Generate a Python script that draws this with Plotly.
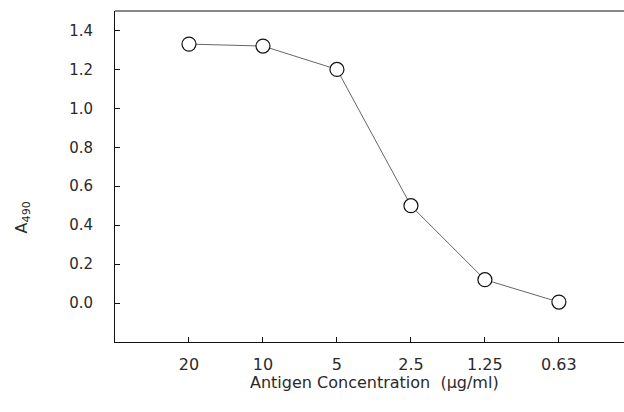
import plotly.graph_objects as go

concentrations = ["20", "10", "5", "2.5", "1.25", "0.63"]
absorbance = [1.33, 1.32, 1.20, 0.50, 0.12, 0.005]
y_ticks = [0.0, 0.2, 0.4, 0.6, 0.8, 1.0, 1.2, 1.4]

xpos = list(range(len(concentrations)))

fig = go.Figure()
fig.add_trace(go.Scatter(
    x=xpos, y=absorbance, mode="lines+markers",
    line=dict(color="#666666", width=1),
    marker=dict(symbol="circle", size=14, color="white",
                line=dict(width=1.2, color="#111111")),
    showlegend=False,
    cliponaxis=False,
))

FAM = "DejaVu Sans"
TXT = "#2a2a2a"

fig.update_layout(
    width=624, height=412,
    margin=dict(l=115, r=0, t=11, b=70, autoexpand=False),
    paper_bgcolor="white", plot_bgcolor="white",
    font=dict(family=FAM, size=15, color=TXT),
    xaxis=dict(
        range=[-1, 5.88], tickvals=xpos, ticktext=concentrations,
        showgrid=False, zeroline=False,
        showline=True, linecolor="#111111", linewidth=1,
        ticks="inside", ticklen=5, tickcolor="#111111",
        tickfont=dict(family=FAM, size=16, color=TXT),
        ticklabelstandoff=8,
    ),
    yaxis=dict(
        range=[-0.2, 1.5], tickvals=y_ticks, ticktext=[f"{v:.1f}" for v in y_ticks],
        showgrid=False, zeroline=False,
        showline=True, linecolor="#111111", linewidth=1,
        ticks="inside", ticklen=5, tickcolor="#111111",
        tickfont=dict(family=FAM, size=15, color=TXT),
        ticklabelstandoff=18,
    ),
    shapes=[dict(type="line", xref="paper", yref="paper", x0=0, x1=1, y0=1, y1=1,
                 line=dict(color="#111111", width=1))],
    annotations=[
        dict(text="Antigen Concentration  (μg/ml)", xref="paper", yref="paper",
             x=0.509, y=0, yshift=-40, xanchor="center", yanchor="middle",
             showarrow=False, font=dict(family=FAM, size=16, color=TXT)),
        dict(text="A<sub>490</sub>", xref="paper", yref="y",
             x=0, y=0.44, xshift=-93, xanchor="center", yanchor="middle",
             textangle=-90, showarrow=False, font=dict(family=FAM, size=16, color=TXT)),
    ],
)

fig.write_html(
    "out.html",
    config={"displayModeBar": False},
    post_script="document.body.style.margin='0';document.body.style.overflow='hidden';"
                "document.documentElement.style.overflow='hidden';",
)
